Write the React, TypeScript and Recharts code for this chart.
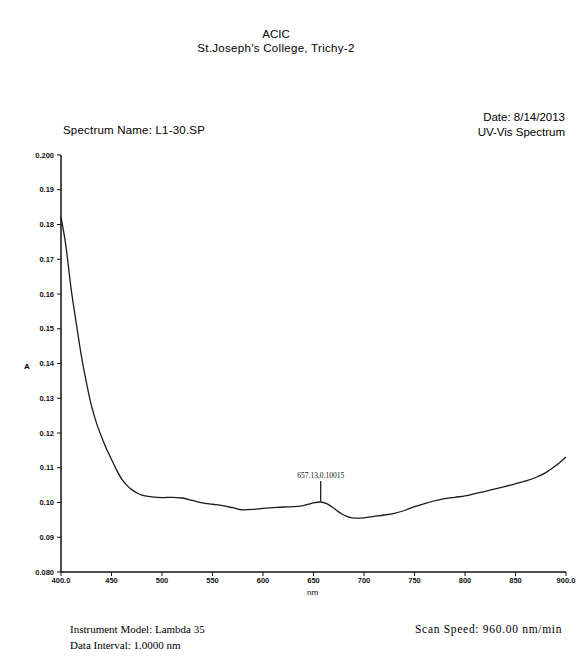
import React from 'react';
import {
  LineChart,
  Line,
  XAxis,
  YAxis,
  ReferenceDot,
} from 'recharts';

// wavelength (nm) and absorbance
const wavelengths = [
  400, 405, 410, 415, 420, 425, 430, 435, 440, 445, 450, 455, 460, 465, 470,
  475, 480, 490, 500, 510, 520, 530, 540, 550, 560, 570, 580, 590, 600, 610,
  620, 630, 640, 645, 650, 657.13, 663, 668, 673, 678, 683, 690, 700, 710, 720,
  730, 740, 750, 760, 775, 790, 800, 815, 830, 845, 860, 870, 880, 887, 893, 900,
];
const absorbance = [
  0.1822, 0.1735, 0.1615, 0.1518, 0.1425, 0.1348, 0.128, 0.123, 0.119, 0.1155,
  0.1124, 0.1094, 0.1068, 0.105, 0.1037, 0.1028, 0.1021, 0.1016, 0.1014,
  0.1015, 0.1013, 0.1006, 0.0999, 0.0995, 0.0991, 0.0985, 0.0979, 0.098,
  0.0983, 0.0985, 0.0987, 0.0988, 0.0991, 0.0995, 0.0999, 0.10015, 0.0997,
  0.0988, 0.0977, 0.0967, 0.096, 0.0955, 0.0956, 0.096, 0.0964, 0.0969,
  0.0977, 0.0988, 0.0997, 0.1008, 0.1015, 0.1019, 0.1029, 0.1039, 0.105,
  0.1062, 0.1072, 0.1086, 0.11, 0.1113, 0.1131,
];

const xTicks = [400, 450, 500, 550, 600, 650, 700, 750, 800, 850, 900];
const yTicks = [0.08, 0.09, 0.1, 0.11, 0.12, 0.13, 0.14, 0.15, 0.16, 0.17, 0.18, 0.19, 0.2];

const peakNm = 657.13;
const peakA = 0.10015;

const data = wavelengths.map((nm, i) => ({ nm, a: absorbance[i] }));

const sans = '"Liberation Sans", Arial, sans-serif';
const serif = '"Liberation Serif", "Times New Roman", serif';

const fmtX = (v: number) => (v === 400 || v === 900 ? v.toFixed(1) : String(v));
const fmtY = (v: number) =>
  v === 0.08 || v === 0.2 ? v.toFixed(3) : v.toFixed(2);

const PeakMark = (props: any) => {
  const { cx, cy } = props;
  return (
    <g>
      <line x1={cx} y1={cy - 1} x2={cx} y2={cy - 21} stroke="#111" strokeWidth={1.2} />
      <text
        x={cx}
        y={cy - 24}
        textAnchor="middle"
        fontSize={7.5}
        fontFamily={serif}
        fill="#111"
      >
        {`${peakNm},${peakA}`}
      </text>
    </g>
  );
};

const txt = (style: React.CSSProperties): React.CSSProperties => ({
  position: 'absolute',
  whiteSpace: 'nowrap',
  color: '#000',
  lineHeight: 1,
  ...style,
});

const tickStyle = { fontSize: 7.5, fill: '#111', fontFamily: sans, fontWeight: 700 };

export default function App() {
  return (
    <div
      style={{
        position: 'absolute',
        left: 0,
        top: 0,
        width: 583,
        height: 656,
        background: '#fff',
        fontFamily: sans,
      }}
    >
      <div style={txt({ left: 0, width: 552, top: 29, textAlign: 'center', fontSize: 11.5 })}>
        ACIC
      </div>
      <div style={txt({ left: 0, width: 552, top: 43, textAlign: 'center', fontSize: 11.5, letterSpacing: 0.3 })}>
        St.Joseph's College, Trichy-2
      </div>
      <div style={txt({ left: 63, top: 125, fontSize: 11.5, letterSpacing: 0.2 })}>
        Spectrum Name: L1-30.SP
      </div>
      <div style={txt({ right: 18, top: 112, fontSize: 11.5, textAlign: 'right' })}>
        Date: 8/14/2013
      </div>
      <div style={txt({ right: 18, top: 127, fontSize: 11.5, textAlign: 'right' })}>
        UV-Vis Spectrum
      </div>
      <div style={txt({ left: 24, top: 363, fontSize: 8, fontWeight: 700 })}>A</div>
      <div style={txt({ left: 307, top: 589, fontSize: 8 })}>nm</div>
      <div style={txt({ left: 70, top: 624, fontSize: 11, fontFamily: serif })}>
        Instrument Model: Lambda 35
      </div>
      <div style={txt({ left: 70, top: 640, fontSize: 11, fontFamily: serif })}>
        Data Interval: 1.0000 nm
      </div>
      <div style={txt({ left: 415, top: 624, fontSize: 11.5, fontFamily: serif, letterSpacing: 0.7 })}>
        Scan Speed: 960.00 nm/min
      </div>

      <div style={{ position: 'absolute', left: 0, top: 0 }}>
        <LineChart
          width={583}
          height={656}
          data={data}
          margin={{ top: 155, right: 17, left: 21, bottom: 54 }}
        >
          <XAxis
            dataKey="nm"
            type="number"
            domain={[400, 900]}
            ticks={xTicks}
            tickFormatter={fmtX}
            tickSize={4}
            tickMargin={2}
            height={30}
            axisLine={{ stroke: '#111', strokeWidth: 1.5 }}
            tickLine={{ stroke: '#111' }}
            tick={tickStyle}
            interval={0}
          />
          <YAxis
            type="number"
            domain={[0.08, 0.2]}
            ticks={yTicks}
            tickFormatter={fmtY}
            tickSize={4}
            tickMargin={3}
            width={40}
            axisLine={{ stroke: '#111', strokeWidth: 1.5 }}
            tickLine={{ stroke: '#111' }}
            tick={tickStyle}
            interval={0}
          />
          <Line
            type="monotone"
            dataKey="a"
            stroke="#1a1a1a"
            strokeWidth={1.3}
            dot={false}
            isAnimationActive={false}
          />
          <ReferenceDot x={peakNm} y={peakA} r={0} shape={PeakMark} />
        </LineChart>
      </div>
    </div>
  );
}
